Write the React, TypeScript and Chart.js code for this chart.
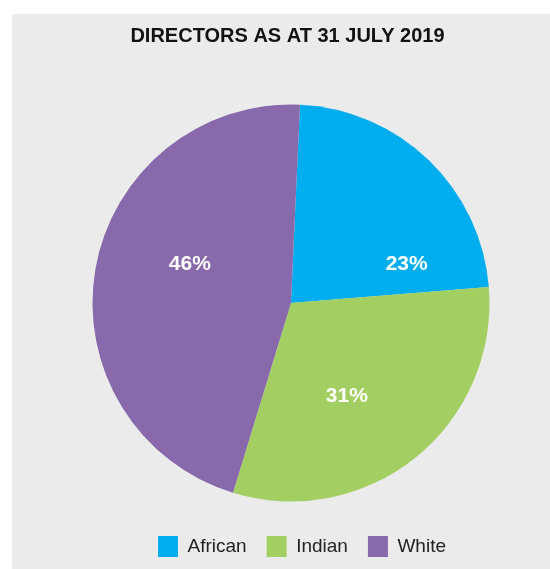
import React, { useEffect, useRef } from "react";
import { Chart, registerables } from "chart.js";

Chart.register(...registerables);

const categories = ["African", "Indian", "White"];
const shares = [23, 31, 46];
const shareLabels = ["23%", "31%", "46%"];
const colors = ["#00aeef", "#a3ce62", "#8869ac"];
// label placement inside each slice: fraction along the arc, fraction of radius
const labelPlacement = [
  { a: 0.83, r: 0.615 },
  { a: 0.57, r: 0.546 },
  { a: 0.568, r: 0.546 },
];

const FONT = "'Liberation Sans', Arial, sans-serif";

const sliceLabels = {
  id: "sliceLabels",
  afterDatasetsDraw(chart: any) {
    const ctx = chart.ctx;
    const meta = chart.getDatasetMeta(0);
    ctx.save();
    ctx.fillStyle = "#ffffff";
    ctx.font = `bold 21px ${FONT}`;
    ctx.textAlign = "center";
    ctx.textBaseline = "middle";
    meta.data.forEach((arc: any, i: number) => {
      const p = arc.getProps(["x", "y", "startAngle", "endAngle", "outerRadius"], true);
      const pl = labelPlacement[i];
      const ang = p.startAngle + pl.a * (p.endAngle - p.startAngle);
      const rr = pl.r * p.outerRadius;
      ctx.fillText(shareLabels[i], p.x + Math.cos(ang) * rr, p.y + Math.sin(ang) * rr);
    });
    ctx.restore();
  },
};

const shiftBoxes = {
  id: "shiftBoxes",
  afterLayout(chart: any) {
    if (chart.legend) {
      chart.legend.left += 11;
      chart.legend.right += 11;
    }
    if (chart.titleBlock) {
      chart.titleBlock.left -= 3.5;
      chart.titleBlock.right -= 3.5;
    }
  },
};

export default function App() {
  const ref = useRef<HTMLCanvasElement | null>(null);
  useEffect(() => {
    if (!ref.current) return;
    const chart = new Chart(ref.current, {
      type: "pie",
      data: {
        labels: categories,
        datasets: [
          {
            data: shares,
            backgroundColor: colors,
            borderWidth: 0,
            radius: 198.5,
            rotation: 2.6,
          } as any,
        ],
      },
      options: {
        animation: false,
        responsive: false,
        maintainAspectRatio: false,
        layout: { padding: { left: 20, right: 0, top: 0, bottom: 2 } },
        plugins: {
          title: {
            display: true,
            text: "DIRECTORS AS AT 31 JULY 2019",
            color: "#111111",
            font: { family: FONT, size: 20, weight: "bold" },
            padding: { top: 10, bottom: 42 },
          },
          legend: {
            display: true,
            position: "bottom",
            labels: {
              boxWidth: 20,
              boxHeight: 21,
              padding: 20,
              color: "#222222",
              font: { family: FONT, size: 19 },
            },
          },
          tooltip: { enabled: false },
        },
      },
      plugins: [sliceLabels, shiftBoxes],
    });
    return () => chart.destroy();
  }, []);
  return (
    <div
      style={{
        position: "absolute",
        left: 12,
        top: 14,
        width: 538,
        height: 555,
        background: "#ebebeb",
      }}
    >
      <canvas ref={ref} width={538} height={555} style={{ display: "block" }} />
    </div>
  );
}
